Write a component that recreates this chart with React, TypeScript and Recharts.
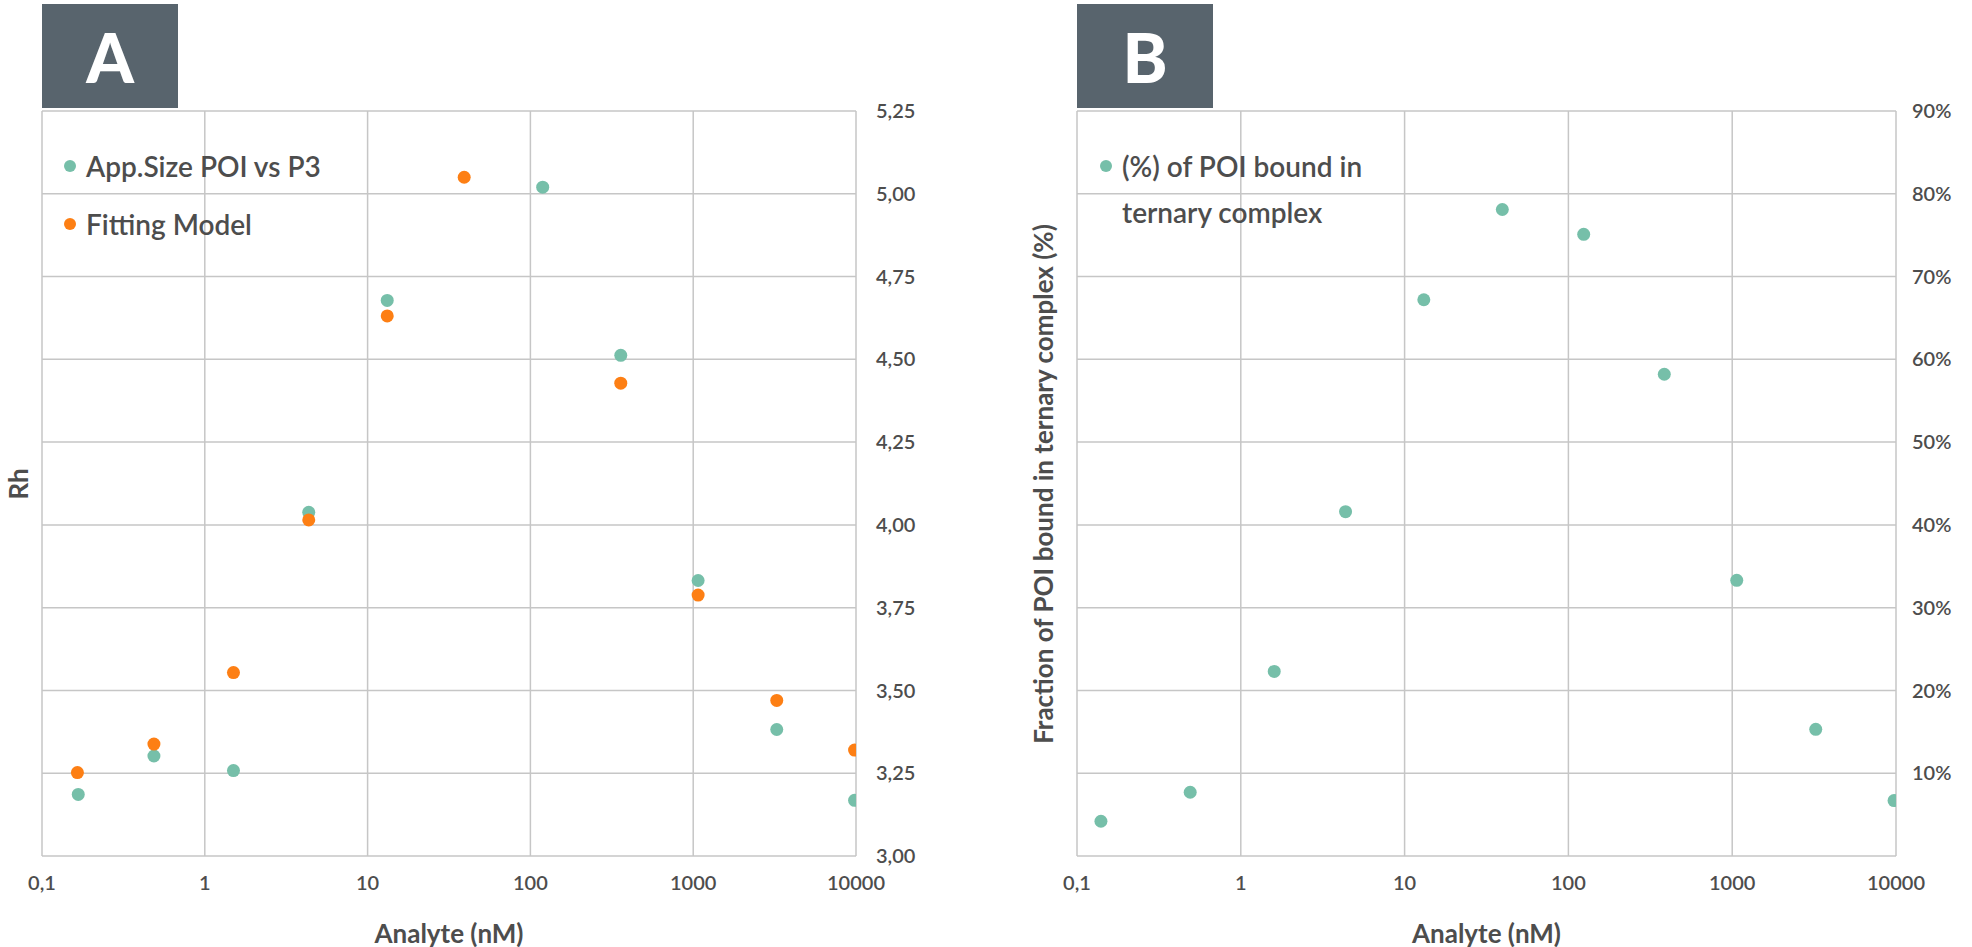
import React from "react";
import { ScatterChart, Scatter, XAxis, YAxis, CartesianGrid } from "recharts";

const xTicks = [0.1, 1, 10, 100, 1000, 10000];
const rhTicks = [3, 3.25, 3.5, 3.75, 4, 4.25, 4.5, 4.75, 5, 5.25];
const pctTicks = [0, 10, 20, 30, 40, 50, 60, 70, 80, 90];

const sizeX = [0.167, 0.487, 1.5, 4.35, 13.2, 119, 359, 1072, 3260, 9800];
const sizeY = [3.186, 3.302, 3.258, 4.038, 4.678, 5.02, 4.512, 3.832, 3.382, 3.168];
const fitX = [0.165, 0.487, 1.5, 4.35, 13.2, 39.2, 359, 1072, 3260, 9800];
const fitY = [3.252, 3.338, 3.554, 4.015, 4.631, 5.05, 4.428, 3.788, 3.47, 3.32];
const boundX = [0.14, 0.491, 1.6, 4.36, 13.1, 39.5, 124, 385, 1066, 3236, 9730];
const boundY = [4.2, 7.7, 22.3, 41.6, 67.2, 78.1, 75.1, 58.2, 33.3, 15.3, 6.7];

const TEAL = "#76bfa9";
const ORANGE = "#fd7f14";
const GRID = "#c6c6c6";
const TEXT = "#4d4d4d";
const FONT = "Lato, 'Noto Sans', sans-serif";

const zip = (xs: number[], ys: number[]) => xs.map((x, i) => ({ x, y: ys[i] }));
const fmtX = (v: number) => String(v).replace(".", ",");
const dot = (color: string) => (p: any) => <circle cx={p.cx} cy={p.cy} r={6.5} fill={color} />;

const tickStyle = { fontSize: 20, fill: TEXT, fontFamily: FONT, fontWeight: 600 };

const LegendBox = ({ left, items }: { left: number; items: { color: string; lines: string[] }[] }) => (
  <div style={{ position: "absolute", left, top: 143, fontFamily: FONT, fontSize: 28, fontWeight: 600, color: TEXT }}>
    {items.map((it, i) => (
      <div key={i} style={{ display: "flex", alignItems: "flex-start", marginBottom: 12 }}>
        <span style={{ width: 12, height: 12, borderRadius: 6, background: it.color, marginTop: 17, marginRight: 10 }} />
        <div style={{ lineHeight: "46px" }}>
          {it.lines.map((l, j) => <div key={j}>{l}</div>)}
        </div>
      </div>
    ))}
  </div>
);

const Badge = ({ left, text }: { left: number; text: string }) => (
  <div style={{ position: "absolute", left, top: 4, width: 136, height: 104, background: "#58646d", color: "#fff",
    fontFamily: FONT, fontWeight: 900, fontSize: 68, display: "flex", alignItems: "center", justifyContent: "center" }}>
    {text}
  </div>
);

const VTitle = ({ left, top, text }: { left: number; top: number; text: string }) => (
  <div style={{ position: "absolute", left, top, transform: "translate(-50%,-50%) rotate(-90deg)", whiteSpace: "nowrap",
    fontFamily: FONT, fontSize: 26, fontWeight: 700, color: TEXT }}>
    {text}
  </div>
);

const xAxis = (
  <XAxis type="number" dataKey="x" scale="log" domain={[0.1, 10000]} ticks={xTicks} tickFormatter={fmtX}
    allowDataOverflow axisLine={false} tickLine={false} tick={tickStyle} tickMargin={14} height={91}
    label={{ value: "Analyte (nM)", position: "insideBottom", offset: 4, style: { ...tickStyle, fontSize: 26, fontWeight: 700 } }} />
);

export default function App() {
  return (
    <div style={{ position: "absolute", left: 0, top: 0, width: 1972, height: 947, background: "#fff" }}>
      <div style={{ position: "absolute", left: 0, top: 0 }}>
        <ScatterChart width={986} height={947} margin={{ top: 111, right: 0, left: 42, bottom: 0 }}>
          <CartesianGrid stroke={GRID} strokeWidth={1.5} horizontalValues={rhTicks} verticalValues={xTicks} />
          {xAxis}
          <YAxis type="number" dataKey="y" orientation="right" domain={[3, 5.25]} ticks={rhTicks} width={130}
            tickFormatter={(v: number) => v.toFixed(2).replace(".", ",")} axisLine={false} tickLine={false}
            tick={{ ...tickStyle, textAnchor: "start" }} tickMargin={14} />
          <Scatter name="App.Size POI vs P3" data={zip(sizeX, sizeY)} shape={dot(TEAL)} isAnimationActive={false} />
          <Scatter name="Fitting Model" data={zip(fitX, fitY)} shape={dot(ORANGE)} isAnimationActive={false} />
        </ScatterChart>
      </div>
      <div style={{ position: "absolute", left: 986, top: 0 }}>
        <ScatterChart width={986} height={947} margin={{ top: 111, right: 0, left: 91, bottom: 0 }}>
          <CartesianGrid stroke={GRID} strokeWidth={1.5} horizontalValues={pctTicks} verticalValues={xTicks} />
          {xAxis}
          <YAxis type="number" dataKey="y" orientation="right" domain={[0, 90]} ticks={pctTicks.slice(1)} width={76}
            tickFormatter={(v: number) => `${v}%`} axisLine={false} tickLine={false}
            tick={{ ...tickStyle, textAnchor: "start" }} tickMargin={10} />
          <Scatter name="(%) of POI bound in ternary complex" data={zip(boundX, boundY)} shape={dot(TEAL)} isAnimationActive={false} />
        </ScatterChart>
      </div>
      <LegendBox left={64} items={[{ color: TEAL, lines: ["App.Size POI vs P3"] }, { color: ORANGE, lines: ["Fitting Model"] }]} />
      <LegendBox left={1100} items={[{ color: TEAL, lines: ["(%) of POI bound in", "ternary complex"] }]} />
      <Badge left={42} text="A" />
      <Badge left={1077} text="B" />
      <VTitle left={18} top={484} text="Rh" />
      <VTitle left={1043} top={484} text="Fraction of POI bound in ternary complex (%)" />
    </div>
  );
}
